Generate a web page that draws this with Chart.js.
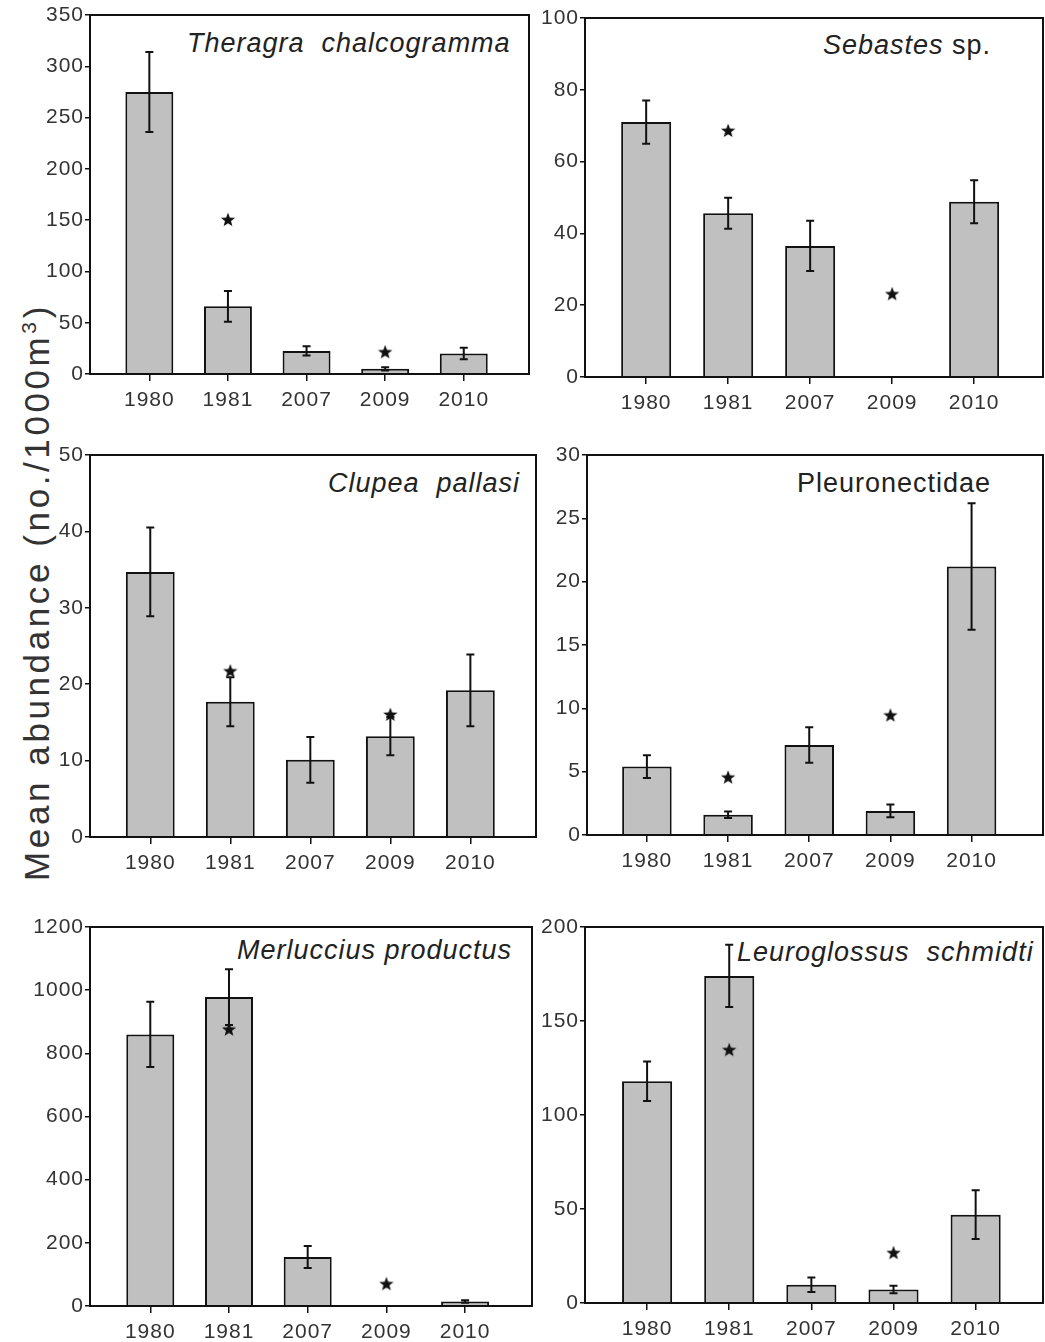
<!DOCTYPE html>
<html>
<head>
<meta charset="utf-8">
<script src="https://cdn.jsdelivr.net/npm/chart.js@4.4.0/dist/chart.umd.min.js"></script>
<style>
html, body { margin: 0; padding: 0; background: #fff; overflow: hidden; width: 1045px; height: 1342px; }
canvas { position: absolute; }
.sp { position: absolute; font-family: "Liberation Sans", Arial, sans-serif; font-size: 27px; color: #222;
      white-space: pre; letter-spacing: 1px; line-height: 1; }
#ytitle { position: absolute; left: 36px; top: 592px; transform: translate(-50%, -50%) rotate(-90deg);
          font-family: "Liberation Sans", Arial, sans-serif; font-size: 35px; letter-spacing: 3.6px;
          color: #333; white-space: nowrap; line-height: 1; }
#ytitle sup { font-size: 60%; vertical-align: 0.6em; }
</style>
</head>
<body>
<div id="ytitle">Mean abundance (no./1000m<sup>3</sup>)</div>
<div class="sp" style="left:187px;top:30px"><i>Theragra  chalcogramma</i></div>
<div class="sp" style="left:823px;top:32px"><i>Sebastes</i> sp.</div>
<div class="sp" style="left:328px;top:470px"><i>Clupea  pallasi</i></div>
<div class="sp" style="left:797px;top:470px">Pleuronectidae</div>
<div class="sp" style="left:237px;top:937px"><i>Merluccius productus</i></div>
<div class="sp" style="left:737px;top:939px"><i>Leuroglossus  schmidti</i></div>
<script>
'use strict';

// sampling years (x categories)
const years = ['1980', '1981', '2007', '2009', '2010'];

// Theragra chalcogramma
const theragraMean = [275, 66, 22.5, 5, 20];
const theragraErr = [39, 15, 4.5, 1.5, 5.5];
const theragraStar = [null, 151, null, 22, null];

// Sebastes sp.
const sebastesMean = [71, 45.6, 36.5, 0, 48.8];
const sebastesErr = [6, 4.3, 7, 0, 6];
const sebastesStar = [null, 68.8, null, 23.3, null];

// Clupea pallasi
const clupeaMean = [34.7, 17.7, 10.1, 13.2, 19.2];
const clupeaErr = [5.8, 3.2, 3, 2.5, 4.7];
const clupeaStar = [null, 21.8, null, 16.1, null];

// Pleuronectidae
const pleuroMean = [5.4, 1.6, 7.1, 1.9, 21.2];
const pleuroErr = [0.9, 0.25, 1.4, 0.5, 5];
const pleuroStar = [null, 4.6, null, 9.5, null];

// Merluccius productus
const merlucciusMean = [860, 978, 155, 0, 14];
const merlucciusErr = [103, 88, 35, 0, 4];
const merlucciusStar = [null, 878, null, 72, null];

// Leuroglossus schmidti
const leuroMean = [118, 174, 9.7, 7.2, 47];
const leuroErr = [10.5, 16.5, 3.9, 2, 13];
const leuroStar = [null, 135, null, 27, null];

// panel layout: plot box [left, top, right, bottom] in page pixels
const panels = [
  {mean: theragraMean, err: theragraErr, star: theragraStar, yMax: 350, yStep: 50, box: [90, 15, 534, 374], xr: [0.245, 5.83]},
  {mean: sebastesMean, err: sebastesErr, star: sebastesStar, yMax: 100, yStep: 20, box: [585, 18, 1048, 377], xr: [0.254, 5.84]},
  {mean: clupeaMean, err: clupeaErr, star: clupeaStar, yMax: 50, yStep: 10, box: [90, 455, 541, 837], xr: [0.247, 5.82]},
  {mean: pleuroMean, err: pleuroErr, star: pleuroStar, yMax: 30, yStep: 5, box: [587, 455, 1048, 835], xr: [0.262, 5.88]},
  {mean: merlucciusMean, err: merlucciusErr, star: merlucciusStar, yMax: 1200, yStep: 200, box: [90, 927, 537, 1306], xr: [0.234, 5.85]},
  {mean: leuroMean, err: leuroErr, star: leuroStar, yMax: 200, yStep: 50, box: [585, 927, 1048, 1303], xr: [0.244, 5.82]}
];

const yAxisW = 60;
const xAxisH = 45;
const padTop = 14;
const padRight = 4;

// filled five point star used as point style
function makeStar(size) {
  const c = document.createElement('canvas');
  c.width = size; c.height = size;
  const g = c.getContext('2d');
  const r = size / 2 - 0.5, ri = r * 0.42;
  g.beginPath();
  for (let k = 0; k < 10; k++) {
    const a = -Math.PI / 2 + k * Math.PI / 5;
    const rr = k % 2 ? ri : r;
    g.lineTo(size / 2 + rr * Math.cos(a), size / 2 + 1 + rr * Math.sin(a));
  }
  g.closePath();
  g.fillStyle = '#111';
  g.fill();
  return c;
}
const starImg = makeStar(16);

// error bars drawn right after the bar dataset, before the stars
const errorBars = {
  id: 'errorBars',
  afterDatasetDraw(chart, args, opts) {
    if (args.index !== 0) return;
    const ctx = chart.ctx, x = chart.scales.x, y = chart.scales.y;
    const data = chart.data.datasets[0].data;
    ctx.save();
    ctx.strokeStyle = '#111';
    ctx.lineWidth = 2;
    data.forEach((d, i) => {
      const e = opts.err[i];
      if (!e) return;
      const px = x.getPixelForValue(d.x);
      const top = y.getPixelForValue(d.y + e);
      const bot = y.getPixelForValue(d.y - e);
      ctx.beginPath();
      ctx.moveTo(px, top); ctx.lineTo(px, bot);
      ctx.moveTo(px - 4, top); ctx.lineTo(px + 4, top);
      ctx.moveTo(px - 4, bot); ctx.lineTo(px + 4, bot);
      ctx.stroke();
    });
    ctx.restore();
  }
};

// box round the plot area
const frame = {
  id: 'frame',
  afterDraw(chart) {
    const {ctx, chartArea: a} = chart;
    ctx.save();
    ctx.strokeStyle = '#111';
    ctx.lineWidth = 2;
    ctx.strokeRect(a.left, a.top, a.right - a.left, a.bottom - a.top);
    ctx.restore();
  }
};

const spacing = {
  id: 'spacing',
  beforeDraw(chart) { chart.ctx.letterSpacing = '1px'; }
};

Chart.defaults.font.family = "'Liberation Sans', Arial, sans-serif";
Chart.defaults.font.size = 21;
Chart.defaults.color = '#333';

panels.forEach(p => {
  const [L, T, R, B] = p.box;
  const cv = document.createElement('canvas');
  cv.width = R - L + yAxisW + padRight;
  cv.height = B - T + padTop + xAxisH;
  cv.style.left = (L - yAxisW) + 'px';
  cv.style.top = (T - padTop) + 'px';
  document.body.appendChild(cv);

  new Chart(cv, {
    type: 'bar',
    data: {
      datasets: [
        {
          type: 'bar',
          data: p.mean.map((v, i) => ({x: i + 1, y: v})),
          backgroundColor: '#c0c0c0',
          borderColor: '#111',
          borderWidth: 2,
          barPercentage: 1,
          categoryPercentage: 0.61,
          order: 1
        },
        {
          type: 'scatter',
          data: p.star.map((v, i) => v == null ? null : {x: i + 1, y: v}).filter(Boolean),
          pointStyle: starImg,
          pointRadius: 8,
          order: 0
        }
      ]
    },
    options: {
      responsive: false,
      animation: false,
      layout: {padding: {left: 0, top: padTop, right: padRight, bottom: 0}},
      plugins: {
        legend: {display: false},
        tooltip: {enabled: false},
        errorBars: {err: p.err}
      },
      scales: {
        x: {
          type: 'linear',
          offset: false,
          min: p.xr[0],
          max: p.xr[1],
          afterBuildTicks: s => { s.ticks = years.map((_, i) => ({value: i + 1})); },
          afterFit: s => { s.height = xAxisH; },
          ticks: {callback: v => years[v - 1], padding: 7, maxRotation: 0, autoSkip: false},
          grid: {offset: false, drawOnChartArea: false, drawTicks: true, tickLength: 7, color: '#111', lineWidth: 1.5},
          border: {display: true, color: '#111', width: 2}
        },
        y: {
          min: 0,
          max: p.yMax,
          afterFit: s => { s.width = yAxisW; },
          ticks: {stepSize: p.yStep, padding: 1, callback: v => String(v)},
          grid: {drawOnChartArea: false, drawTicks: true, tickLength: 5, color: '#111', lineWidth: 1.5},
          border: {display: true, color: '#111', width: 2}
        }
      }
    },
    plugins: [errorBars, frame, spacing]
  });
});
</script>
</body>
</html>
